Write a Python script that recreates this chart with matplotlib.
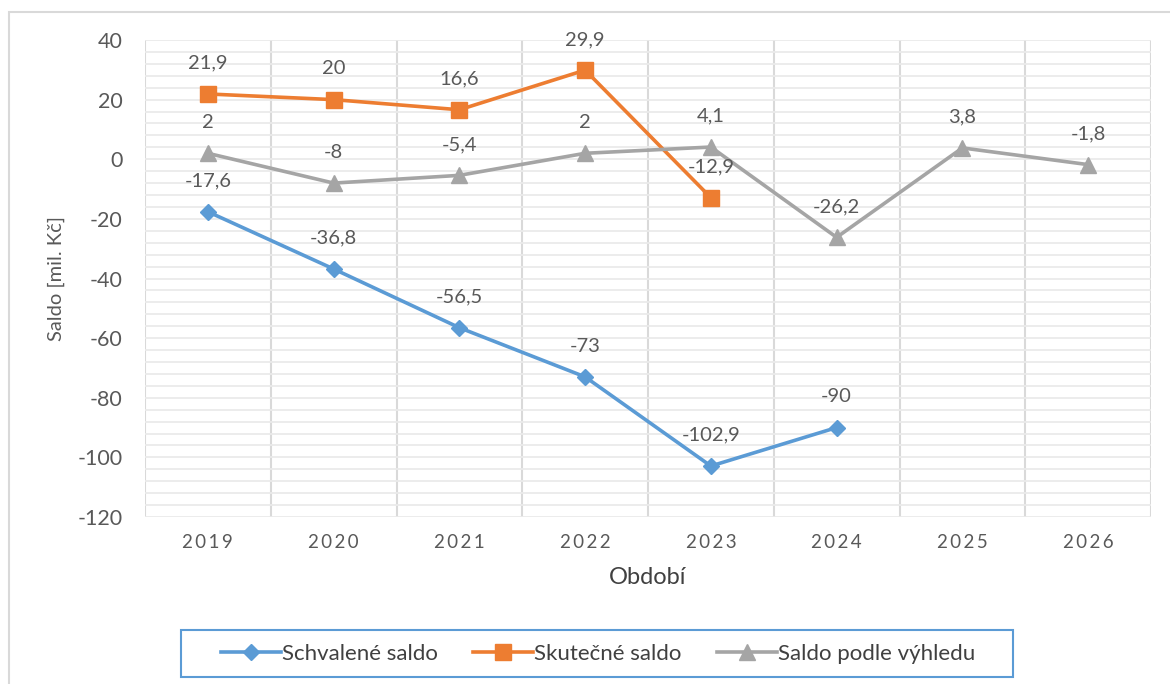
import matplotlib
matplotlib.use("Agg")
import matplotlib.pyplot as plt
from matplotlib.ticker import MultipleLocator, FuncFormatter
import numpy as np

plt.rcParams['font.family'] = ['Lato', 'DejaVu Sans']
plt.rcParams['axes.unicode_minus'] = False

years = ['2019', '2020', '2021', '2022', '2023', '2024', '2025', '2026']
schvalene = [-17.6, -36.8, -56.5, -73, -102.9, -90, None, None]
skutecne = [21.9, 20, 16.6, 29.9, -12.9, None, None, None]
vyhled = [2, -8, -5.4, 2, 4.1, -26.2, 3.8, -1.8]

series_names = ['Schvalené saldo', 'Skutečné saldo', 'Saldo podle výhledu']
colors = ['#5B9BD5', '#ED7D31', '#A5A5A5']
markers = ['D', 's', '^']
msizes = [8, 11, 11]

W, H = 1170, 684
fig = plt.figure(figsize=(W / 100, H / 100), dpi=100)
ax = fig.add_axes([145 / W, 1 - 517 / H, (1151 - 145) / W, (517 - 40) / H])

x = np.arange(len(years))
for vals, name, c, m, ms in zip([schvalene, skutecne, vyhled], series_names, colors, markers, msizes):
    xs = [xi for xi, v in zip(x, vals) if v is not None]
    ys = [v for v in vals if v is not None]
    ax.plot(xs, ys, color=c, lw=2.6, marker=m, ms=ms, zorder=3, label=name)
    for xi, yi in zip(xs, ys):
        lab = ('%g' % yi).replace('.', ',')
        ax.annotate(lab, (xi, yi), xytext=(0, 16), textcoords='offset points',
                    ha='center', va='bottom', fontsize=14.5, color='#595959', zorder=4)

ax.set_xlim(-0.5, len(years) - 0.5)
ax.set_ylim(-120, 40)
ax.yaxis.set_major_locator(MultipleLocator(20))
ax.yaxis.set_minor_locator(MultipleLocator(4))
ax.yaxis.set_major_formatter(FuncFormatter(lambda v, p: '%d' % v))
ax.set_xticks(x)
ax.set_xticklabels(['\u2009'.join(y) for y in years], fontsize=13.5, color='#595959')
ax.set_xticks(np.arange(-0.5, len(years)), minor=True)
ax.tick_params(axis='x', which='both', length=0, pad=12)
ax.tick_params(axis='y', which='both', length=0, pad=16, labelsize=15.5, labelcolor='#595959')
ax.grid(axis='y', which='both', color='#EAEAEA', lw=1.3, zorder=0)
ax.grid(axis='x', which='minor', color='#D9D9D9', lw=1.5, zorder=0)
ax.grid(axis='x', which='major', visible=False)
for s in ax.spines.values():
    s.set_visible(False)

ax.set_ylabel('Saldo [mil. Kč]', fontsize=14.5, color='#595959', labelpad=9)
ax.set_xlabel('Období', fontsize=17, color='#404040', labelpad=12)

leg = fig.legend(loc='center', bbox_to_anchor=(598 / W, 1 - 654 / H), ncol=3,
                 fontsize=16, frameon=False, handlelength=2.7,
                 handletextpad=0.05, columnspacing=1.6, borderpad=0.0, borderaxespad=0)
for t in leg.get_texts():
    t.set_color('#404040')

# legend box
fig.add_artist(plt.Rectangle((181 / W, 1 - 677 / H), (1013 - 181) / W, 47 / H,
                             transform=fig.transFigure, fill=False,
                             edgecolor='#5B9BD5', lw=1.5))

# outer chart border
fig.add_artist(plt.Rectangle((8.5 / W, -0.05), 1.2, 1 - 11.5 / H + 0.05,
                             transform=fig.transFigure, fill=False,
                             edgecolor='#D9D9D9', lw=1.5))

fig.savefig('out.png', dpi=100)
